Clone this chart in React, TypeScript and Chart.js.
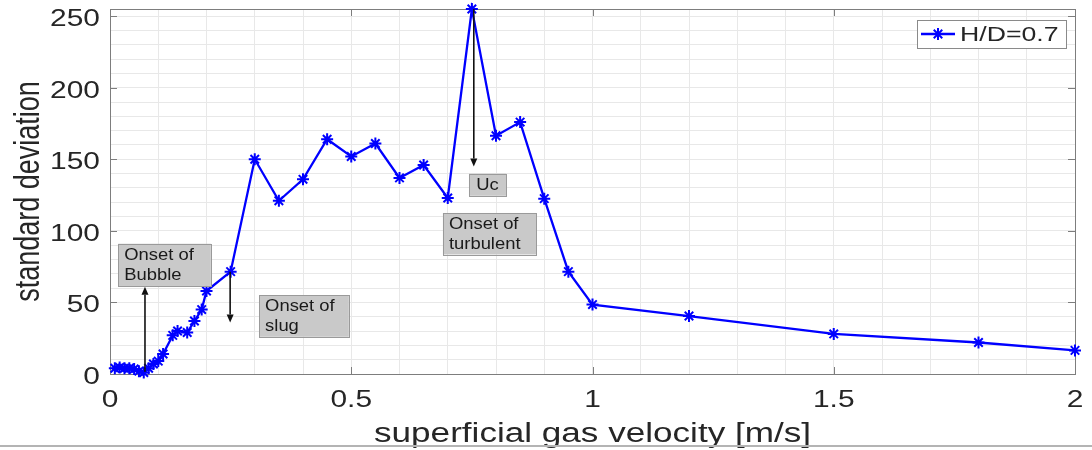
import React, { useEffect, useRef } from "react";
import { Chart, registerables } from "chart.js";

Chart.register(...registerables);

// Superficial gas velocity [m/s]
const velocity = [
  0.01, 0.02, 0.03, 0.04, 0.05, 0.06, 0.07, 0.08, 0.09, 0.1,
  0.11, 0.13, 0.14, 0.16, 0.175, 0.19, 0.2,
  0.25, 0.3, 0.35, 0.4, 0.45, 0.5, 0.55, 0.6, 0.65, 0.7, 0.75, 0.8, 0.85, 0.9, 0.95, 1.0,
  1.2, 1.5, 1.8, 2.0,
];

// Standard deviation of the pressure signal, H/D = 0.7
const stdDev = [
  4, 4.5, 4, 4, 3.5, 2, 1, 4, 7, 9,
  14, 27, 30, 29, 37, 45, 58,
  71.5, 150, 121, 136, 164, 152, 161, 137, 146, 123, 255, 166.5, 176, 122.5, 71.5, 48.5,
  40.5, 28, 22, 16.5,
];

const xTickValues = [0, 0.5, 1, 1.5, 2];
const xTickLabels = ["0", "0.5", "1", "1.5", "2"];
const yTickValues = [0, 50, 100, 150, 200, 250];
const yTickLabels = ["0", "50", "100", "150", "200", "250"];

const seriesLabel = "H/D=0.7";
const xTitle = "superficial gas velocity [m/s]";
const yTitle = "standard deviation";

// Regime labels: box corners in data units, text lines
const noteBoxes = [
  { x0: 0.017, x1: 0.209, y0: 91, y1: 61.5, lines: ["Onset of", "Bubble"], align: "left" },
  { x0: 0.309, x1: 0.495, y0: 55, y1: 26, lines: ["Onset of", "slug"], align: "left" },
  { x0: 0.744, x1: 0.821, y0: 140, y1: 124.5, lines: ["Uc"], align: "center" },
  { x0: 0.69, x1: 0.883, y0: 112.5, y1: 83.5, lines: ["Onset of", "turbulent"], align: "left" },
];

// Arrows: from (x, yFrom) to (x, yTo), head at the "to" end
const noteArrows = [
  { x: 0.0725, yFrom: 1.5, yTo: 61 },
  { x: 0.249, yFrom: 71.5, yTo: 36 },
  { x: 0.754, yFrom: 255, yTo: 145 },
];

const FONT = "'Liberation Sans', Arial, Helvetica, sans-serif";
const TEXT = "#262626";
const LINE_BLUE = "#0000ff";

// text drawn with a horizontal stretch factor
function wideText(ctx: CanvasRenderingContext2D, text: string, x: number, y: number, align: CanvasTextAlign, sx: number) {
  ctx.save();
  ctx.translate(x, y);
  ctx.scale(sx, 1);
  ctx.textAlign = align;
  ctx.fillText(text, 0, 0);
  ctx.restore();
}

function star(ctx: CanvasRenderingContext2D, cx: number, cy: number, r: number) {
  ctx.beginPath();
  for (let k = 0; k < 4; k++) {
    const ang = (k * Math.PI) / 4;
    ctx.moveTo(cx - r * Math.cos(ang), cy - r * Math.sin(ang));
    ctx.lineTo(cx + r * Math.cos(ang), cy + r * Math.sin(ang));
  }
  ctx.stroke();
}

const decorPlugin = {
  id: "decor",
  beforeDatasetsDraw(chart: any) {
    const { ctx, chartArea: a } = chart;
    const xs = chart.scales.x;
    const ys = chart.scales.y;
    ctx.save();
    // axes box
    ctx.strokeStyle = "#7d7d7d";
    ctx.lineWidth = 1;
    ctx.strokeRect(Math.round(a.left) + 0.5, Math.round(a.top) + 0.5, Math.round(a.right - a.left), Math.round(a.bottom - a.top));
    // inward major ticks on all four sides
    const tl = 7;
    ctx.beginPath();
    xTickValues.forEach((v) => {
      const px = Math.round(xs.getPixelForValue(v)) + 0.5;
      ctx.moveTo(px, a.bottom);
      ctx.lineTo(px, a.bottom - tl);
      ctx.moveTo(px, a.top);
      ctx.lineTo(px, a.top + tl);
    });
    yTickValues.forEach((v) => {
      const py = Math.round(ys.getPixelForValue(v)) + 0.5;
      ctx.moveTo(a.left, py);
      ctx.lineTo(a.left + tl, py);
      ctx.moveTo(a.right, py);
      ctx.lineTo(a.right - tl, py);
    });
    ctx.stroke();

    // tick labels
    ctx.fillStyle = TEXT;
    ctx.font = `23px ${FONT}`;
    ctx.textBaseline = "alphabetic";
    xTickValues.forEach((v, i) => {
      wideText(ctx, xTickLabels[i], xs.getPixelForValue(v), a.bottom + 33, "center", 1.3);
    });
    yTickValues.forEach((v, i) => {
      wideText(ctx, yTickLabels[i], a.left - 10, ys.getPixelForValue(v) + 10, "right", 1.3);
    });

    // axis titles
    ctx.font = `27px ${FONT}`;
    wideText(ctx, xTitle, (a.left + a.right) / 2, 442, "center", 1.3);
    ctx.textBaseline = "middle";
    ctx.save();
    ctx.translate(29, (a.top + a.bottom) / 2);
    ctx.scale(1.3, 1);
    ctx.rotate(-Math.PI / 2);
    ctx.textAlign = "center";
    ctx.fillText(yTitle, 0, 0);
    ctx.restore();
    ctx.restore();
  },
  afterDraw(chart: any) {
    const { ctx, chartArea: a } = chart;
    const xs = chart.scales.x;
    const ys = chart.scales.y;
    ctx.save();

    // arrows
    ctx.strokeStyle = "#111";
    ctx.fillStyle = "#111";
    ctx.lineWidth = 1.6;
    noteArrows.forEach((ar) => {
      const px = xs.getPixelForValue(ar.x);
      const p0 = ys.getPixelForValue(ar.yFrom);
      const p1 = ys.getPixelForValue(ar.yTo);
      const dir = p1 > p0 ? 1 : -1;
      const head = 8;
      ctx.beginPath();
      ctx.moveTo(px, p0);
      ctx.lineTo(px, p1 - dir * head);
      ctx.stroke();
      ctx.beginPath();
      ctx.moveTo(px, p1);
      ctx.lineTo(px - 3.5, p1 - dir * head);
      ctx.lineTo(px + 3.5, p1 - dir * head);
      ctx.closePath();
      ctx.fill();
    });

    // labelled boxes
    noteBoxes.forEach((b) => {
      const x0 = xs.getPixelForValue(b.x0);
      const x1 = xs.getPixelForValue(b.x1);
      const y0 = ys.getPixelForValue(b.y0);
      const y1 = ys.getPixelForValue(b.y1);
      ctx.fillStyle = "#c9c9c9";
      ctx.fillRect(x0, y0, x1 - x0, y1 - y0);
      ctx.strokeStyle = "#9a9a9a";
      ctx.lineWidth = 1;
      ctx.strokeRect(Math.round(x0) + 0.5, Math.round(y0) + 0.5, Math.round(x1 - x0), Math.round(y1 - y0));
      ctx.fillStyle = "#1a1a1a";
      ctx.font = `16px ${FONT}`;
      ctx.textBaseline = "middle";
      const n = b.lines.length;
      const lh = 20;
      const cy = (y0 + y1) / 2;
      b.lines.forEach((t, i) => {
        const ty = cy + (i - (n - 1) / 2) * lh + 1;
        if (b.align === "center") {
          wideText(ctx, t, (x0 + x1) / 2, ty, "center", 1.15);
        } else {
          wideText(ctx, t, x0 + 6, ty, "left", 1.15);
        }
      });
    });

    // legend
    const lw = 149;
    const lhgt = 28;
    const lx = a.right - 9 - lw;
    const ly = a.top + 11;
    ctx.fillStyle = "#ffffff";
    ctx.fillRect(lx, ly, lw, lhgt);
    ctx.strokeStyle = "#8a8a8a";
    ctx.lineWidth = 1;
    ctx.strokeRect(Math.round(lx) + 0.5, Math.round(ly) + 0.5, lw, lhgt);
    const my = ly + lhgt / 2;
    ctx.strokeStyle = LINE_BLUE;
    ctx.lineWidth = 2.3;
    ctx.beginPath();
    ctx.moveTo(lx + 4, my);
    ctx.lineTo(lx + 38, my);
    ctx.stroke();
    ctx.lineWidth = 2;
    star(ctx, lx + 21, my, 6);
    ctx.fillStyle = TEXT;
    ctx.font = `21px ${FONT}`;
    ctx.textBaseline = "middle";
    wideText(ctx, seriesLabel, lx + 43, my + 1, "left", 1.27);

    // bottom frame line
    ctx.fillStyle = "#b4b4b4";
    ctx.fillRect(0, 445, chart.width, 2);
    ctx.restore();
  },
};

export default function App() {
  const ref = useRef<HTMLCanvasElement | null>(null);

  useEffect(() => {
    if (!ref.current) return;
    const chart = new Chart(ref.current, {
      type: "line",
      data: {
        datasets: [
          {
            label: seriesLabel,
            data: velocity.map((v, i) => ({ x: v, y: stdDev[i] })),
            borderColor: LINE_BLUE,
            backgroundColor: LINE_BLUE,
            borderWidth: 2.3,
            pointStyle: "star",
            pointRadius: 6,
            pointBorderWidth: 2,
            pointBorderColor: LINE_BLUE,
            tension: 0,
            clip: false as any,
          },
        ],
      },
      options: {
        animation: false,
        responsive: true,
        maintainAspectRatio: false,
        layout: { padding: { left: 0, top: 9, right: 17, bottom: 0 } },
        plugins: {
          legend: { display: false },
          tooltip: { enabled: false },
        },
        scales: {
          x: {
            type: "linear",
            min: 0,
            max: 2,
            afterFit: (s: any) => {
              s.height = 76;
            },
            ticks: { stepSize: 0.1, autoSkip: false, display: false, includeBounds: false },
            grid: { drawTicks: false, color: "#e8e8e8", lineWidth: 1 },
            border: { display: false },
          },
          y: {
            type: "linear",
            min: 0,
            max: 255,
            afterFit: (s: any) => {
              s.width = 110;
            },
            ticks: { stepSize: 10, autoSkip: false, display: false, includeBounds: false },
            grid: { drawTicks: false, color: "#e8e8e8", lineWidth: 1 },
            border: { display: false },
          },
        },
      },
      plugins: [decorPlugin],
    });
    return () => chart.destroy();
  }, []);

  return (
    <div style={{ position: "fixed", left: 0, top: 0, width: 1092, height: 450, background: "#fff" }}>
      <canvas ref={ref} />
    </div>
  );
}
